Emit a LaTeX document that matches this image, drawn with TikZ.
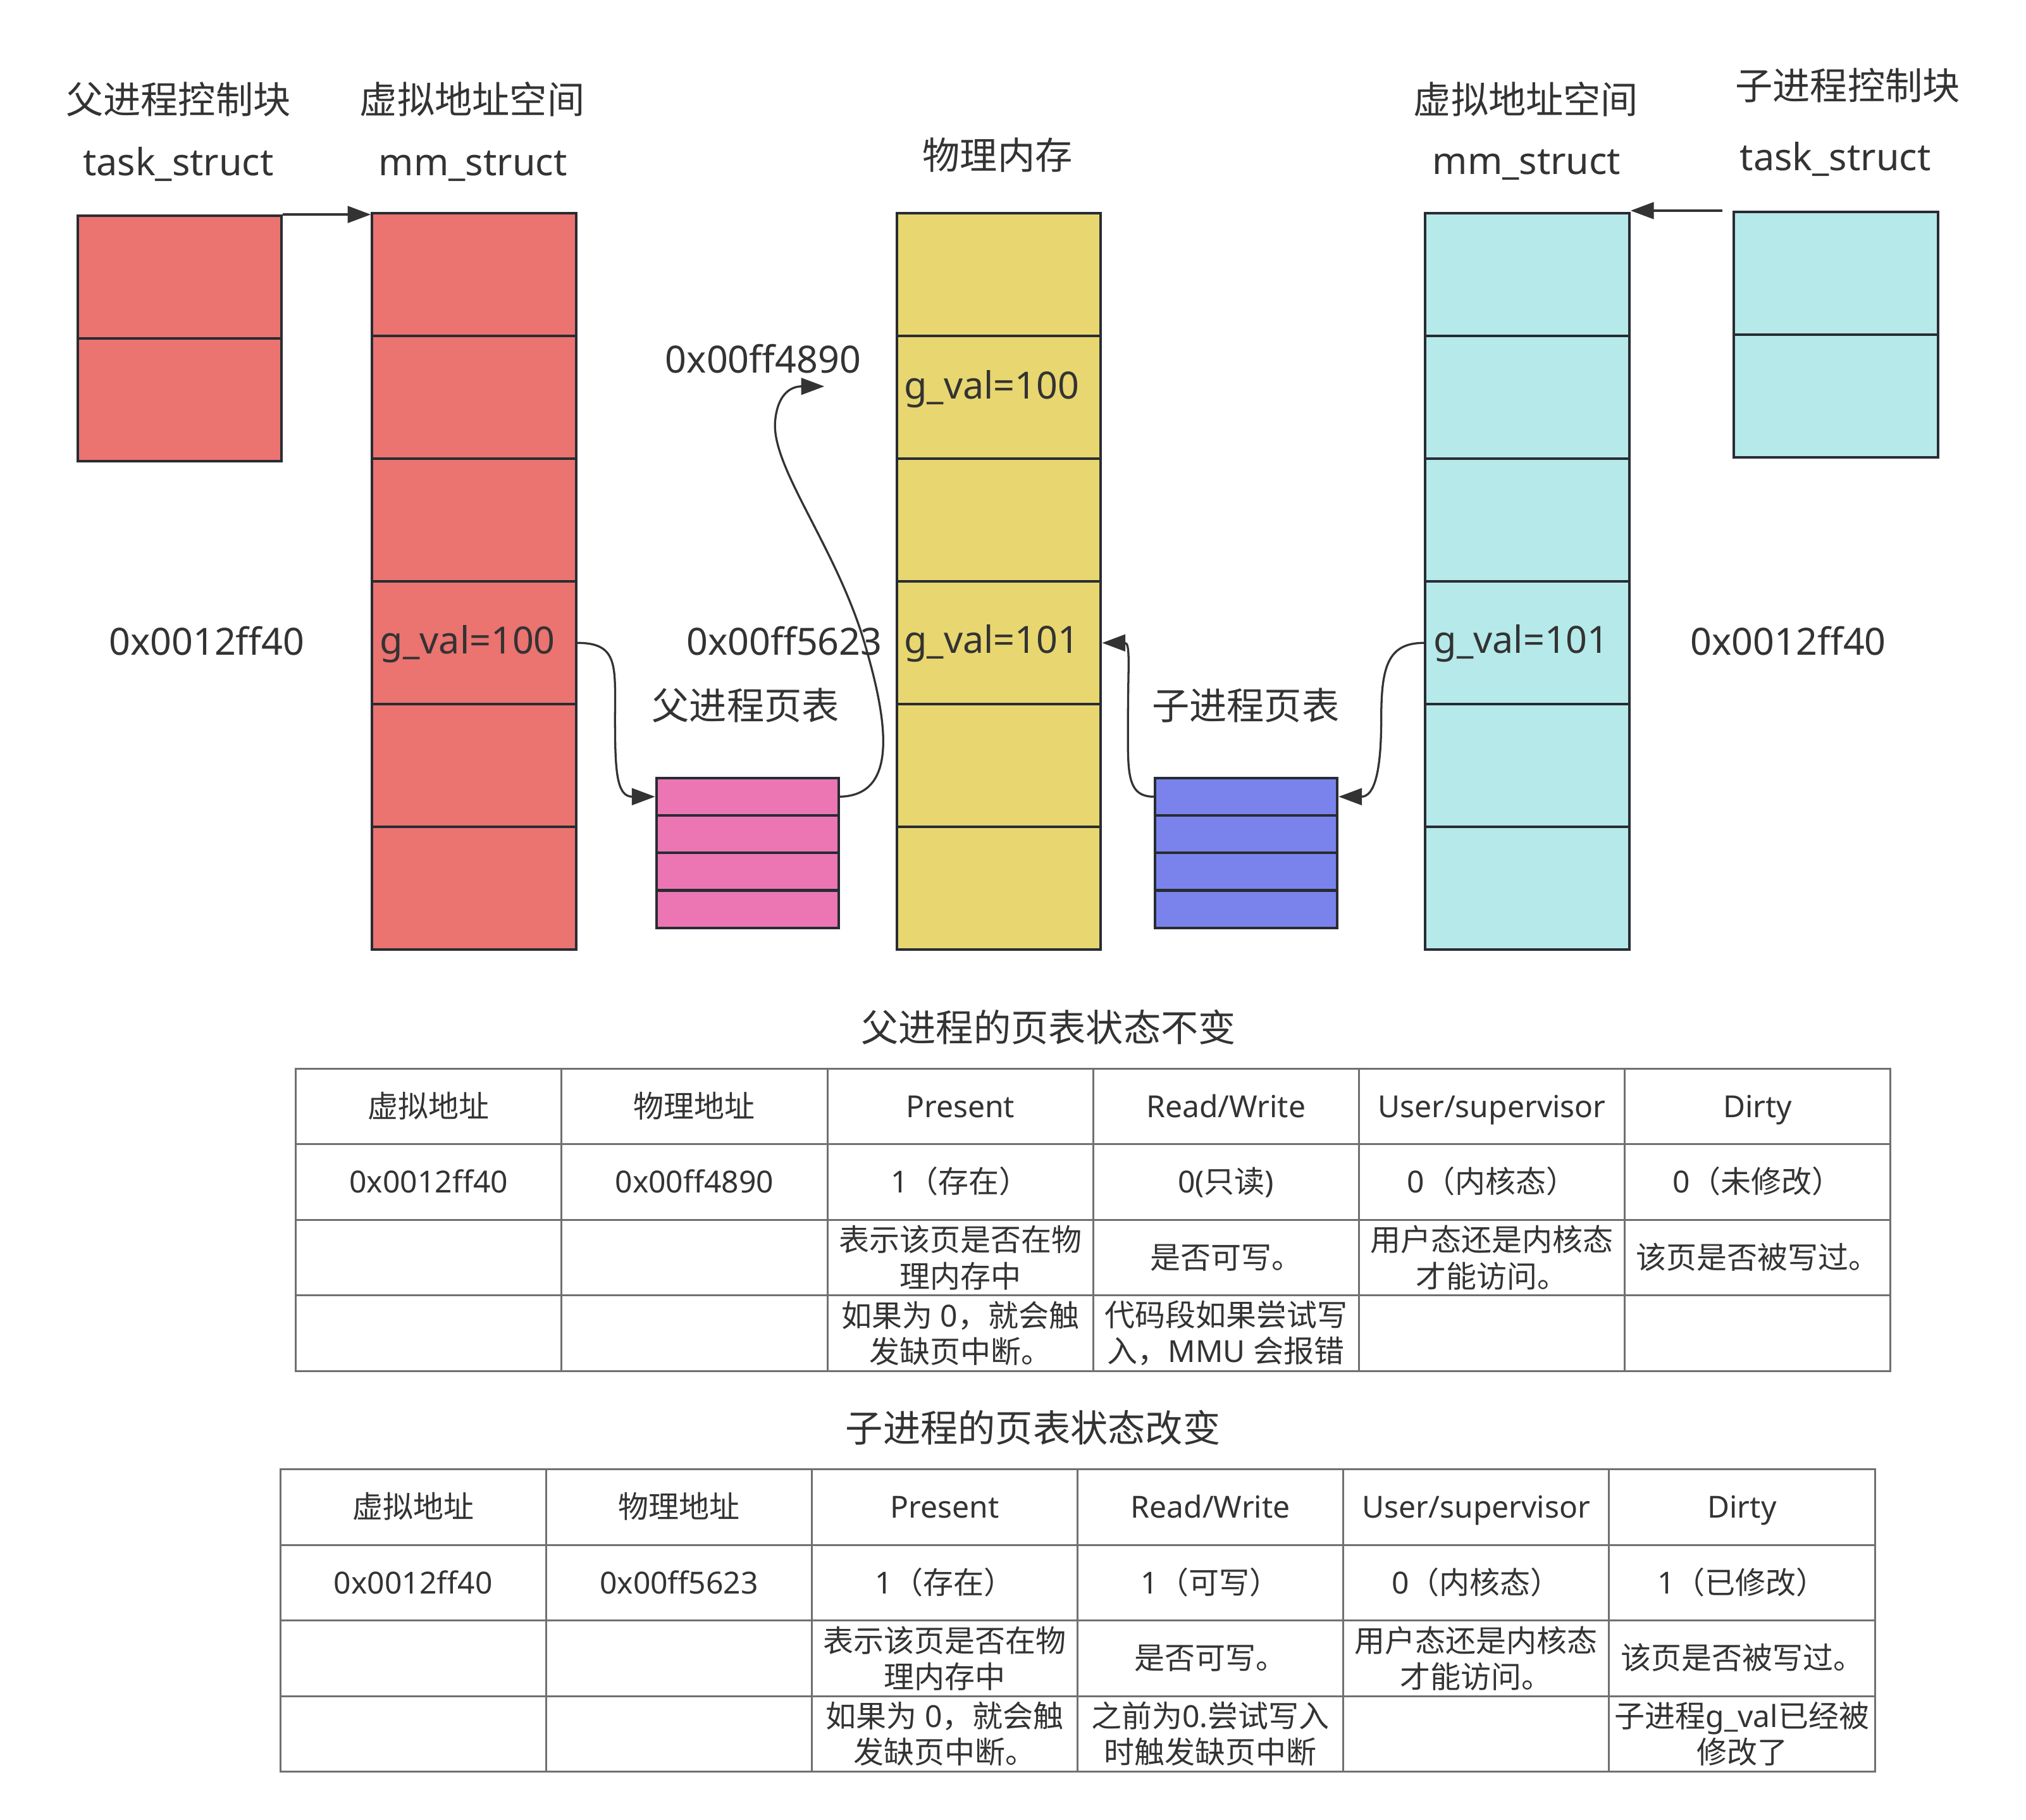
\documentclass[tikz,border=0pt]{standalone}
\usepackage{fontspec}
\setmainfont{Noto Sans}
\newfontfamily\cjkfont{Noto Sans CJK SC}
\usetikzlibrary{arrows.meta}
\newcommand\zh[1]{{\cjkfont #1}}
\definecolor{edge}{HTML}{282C33}
\definecolor{txt}{HTML}{333333}
\definecolor{gridc}{HTML}{707070}
\definecolor{redc}{HTML}{EB7370}
\definecolor{yelc}{HTML}{E8D670}
\definecolor{cyac}{HTML}{B6E9E9}
\definecolor{pinkc}{HTML}{EC76B4}
\definecolor{bluec}{HTML}{7A83EB}
\begin{document}
\begin{tikzpicture}[x=1pt,y=-1pt,
 cell/.style={draw=edge, line width=2pt, inner sep=0pt, anchor=north west, minimum width=158pt, minimum height=95pt},
 ptcell/.style={draw=edge, line width=2pt, inner sep=0pt, anchor=north west, minimum width=141pt, minimum height=29pt},
 lab/.style={text=txt, font=\fontsize{29}{34}\selectfont, inner sep=0pt, anchor=base},
 labw/.style={lab, anchor=base west},
 tcell/.style={text=txt, font=\fontsize{23.5}{28}\selectfont, inner sep=0pt, align=center, anchor=center},
 tcellone/.style={tcell, text height=17pt, text depth=0pt},
 conn/.style={draw=txt, line width=1.6pt, -{Triangle[length=18pt,width=13pt]}},
 gridline/.style={draw=gridc, line width=1.5pt},
]
\useasboundingbox (0,0) rectangle (1568,1408.4);
\fill[white] (0,0) rectangle (1568,1408.4);

% ---------- boxes ----------
\node[cell, fill=redc] (pt1) at (59,166) {};
\node[cell, fill=redc] (pt2) at (59,261) {};
\foreach \i in {1,...,6} {
  \node[cell, fill=redc] (r\i) at (287,{164+95*(\i-1)}) {};
  \node[cell, fill=yelc] (y\i) at (693,{164+95*(\i-1)}) {};
  \node[cell, fill=cyac] (c\i) at (1102,{164+95*(\i-1)}) {};
}
\node[cell, fill=cyac] (ct1) at (1341,163) {};
\node[cell, fill=cyac] (ct2) at (1341,258) {};
\foreach \i in {1,...,4} {
  \node[ptcell, fill=pinkc] (pk\i) at (507,{601+29*(\i-1)}) {};
  \node[ptcell, fill=bluec] (bl\i) at (893,{601+29*(\i-1)}) {};
}

% ---------- labels ----------
\node[lab] (tl1) at (138,88) {\zh{父进程控制块}};
\node[lab] (tl2) at (138,136) {task\_struct};
\node[lab] (tl3) at (365.5,88) {\zh{虚拟地址空间}};
\node[lab] (tl4) at (366,136) {mm\_struct};
\node[lab] (tl5) at (772,131) {\zh{物理内存}};
\node[lab] (tl6) at (1181,88) {\zh{虚拟地址空间}};
\node[lab] (tl7) at (1181.5,135) {mm\_struct};
\node[lab] (tl8) at (1430,77) {\zh{子进程控制块}};
\node[lab] (tl9) at (1420.5,132) {task\_struct};

\node[lab] (va1) at (160,507) {0x0012ff40};
\node[labw] (gv1) at (294,506) {g\_val=100};
\node[lab] (pa1) at (590.6,288.4) {0x00ff4890};
\node[labw] (gv2) at (699.5,308.7) {g\_val=100};
\node[lab] (pa2) at (607,507) {0x00ff5623};
\node[labw] (gv3) at (699.5,505.5) {g\_val=101};
\node[lab] (ptl) at (577,557) {\zh{父进程页表}};
\node[lab] (ctl) at (964,557) {\zh{子进程页表}};
\node[labw] (gv4) at (1109.5,505.5) {g\_val=101};
\node[lab] (va2) at (1384,507) {0x0012ff40};

% ---------- connectors ----------
\coordinate (a4890) at (638,299);
\draw[conn] (pt1.north east) -- (pt1.north east -| r1.west);
\draw[conn] ([xshift=-8pt]ct1.north west) -- (ct1.north west -| c1.east);
\draw[conn] (r4.east) .. controls +(32,0) and +(0,-40) .. (476,556) .. controls +(0,40) and +(-30,0) .. (pk1.west);
\draw[conn] (pk1.east) .. controls (695,615.5) and (688,560) .. (668,494) .. controls (645,420) and (596,360) .. (600,325) .. controls (602,305) and (612,299) .. (a4890);
\draw[conn] (bl1.west) .. controls +(-22,0) and +(0,40) .. (873,556) .. controls +(0,-40) and +(22,0) .. (y4.east);
\draw[conn] (c4.west) .. controls +(-28,0) and +(0,-40) .. (1069,556) .. controls +(0,40) and +(28,0) .. (bl1.east);

% ---------- table 1 ----------
\node[lab] (tt1) at (811.5,806) {\zh{父进程的页表状态不变}};
\draw[gridline] (229,827) rectangle (1463,1061);
\foreach \k in {1,...,5} \draw[gridline] ({229+205.667*\k},827) -- ++(0,234);
\foreach \k in {1,2,3} \draw[gridline] (229,{827+58.5*\k}) -- ++(1234,0);

\node[tcellone] (a11) at (331.8,856.25) {\zh{虚拟地址}};
\node[tcellone] (a12) at (537.5,856.25) {\zh{物理地址}};
\node[tcellone] (a13) at (743.2,856.25) {Present};
\node[tcellone] (a14) at (948.8,856.25) {Read/Write};
\node[tcellone] (a15) at (1154.5,856.25) {User/supervisor};
\node[tcellone] (a16) at (1360.2,856.25) {Dirty};
\node[tcellone] (a21) at (331.8,914.75) {0x0012ff40};
\node[tcellone] (a22) at (537.5,914.75) {0x00ff4890};
\node[tcellone] (a23) at (743.2,914.75) {1\zh{（存在）}};
\node[tcellone] (a24) at (948.8,914.75) {0(\zh{只读})};
\node[tcellone] (a25) at (1154.5,914.75) {0\zh{（内核态）}};
\node[tcellone] (a26) at (1360.2,914.75) {0\zh{（未修改）}};
\node[tcell] (a33) at (743.2,973.25) {\zh{表示该页是否在物}\\\zh{理内存中}};
\node[tcellone] (a34) at (948.8,973.25) {\zh{是否可写。}};
\node[tcell] (a35) at (1154.5,973.25) {\zh{用户态还是内核态}\\\zh{才能访问。}};
\node[tcellone] (a36) at (1360.2,973.25) {\zh{该页是否被写过。}};
\node[tcell] (a43) at (743.2,1031.75) {\zh{如果为} 0\zh{，就会触}\\\zh{发缺页中断。}};
\node[tcell] (a44) at (948.8,1031.75) {\zh{代码段如果尝试写}\\\zh{入，}MMU \zh{会报错}};

% ---------- table 2 ----------
\node[lab] (tt2) at (799.5,1116) {\zh{子进程的页表状态改变}};
\draw[gridline] (217,1137) rectangle (1451,1371);
\foreach \k in {1,...,5} \draw[gridline] ({217+205.667*\k},1137) -- ++(0,234);
\foreach \k in {1,2,3} \draw[gridline] (217,{1137+58.5*\k}) -- ++(1234,0);

\node[tcellone] (b11) at (319.8,1166.25) {\zh{虚拟地址}};
\node[tcellone] (b12) at (525.5,1166.25) {\zh{物理地址}};
\node[tcellone] (b13) at (731.2,1166.25) {Present};
\node[tcellone] (b14) at (936.8,1166.25) {Read/Write};
\node[tcellone] (b15) at (1142.5,1166.25) {User/supervisor};
\node[tcellone] (b16) at (1348.2,1166.25) {Dirty};
\node[tcellone] (b21) at (319.8,1224.75) {0x0012ff40};
\node[tcellone] (b22) at (525.5,1224.75) {0x00ff5623};
\node[tcellone] (b23) at (731.2,1224.75) {1\zh{（存在）}};
\node[tcellone] (b24) at (936.8,1224.75) {1\zh{（可写）}};
\node[tcellone] (b25) at (1142.5,1224.75) {0\zh{（内核态）}};
\node[tcellone] (b26) at (1348.2,1224.75) {1\zh{（已修改）}};
\node[tcell] (b33) at (731.2,1283.25) {\zh{表示该页是否在物}\\\zh{理内存中}};
\node[tcellone] (b34) at (936.8,1283.25) {\zh{是否可写。}};
\node[tcell] (b35) at (1142.5,1283.25) {\zh{用户态还是内核态}\\\zh{才能访问。}};
\node[tcellone] (b36) at (1348.2,1283.25) {\zh{该页是否被写过。}};
\node[tcell] (b43) at (731.2,1341.75) {\zh{如果为} 0\zh{，就会触}\\\zh{发缺页中断。}};
\node[tcell] (b44) at (936.8,1341.75) {\zh{之前为}0.\zh{尝试写入}\\\zh{时触发缺页中断}};
\node[tcell] (b46) at (1348.2,1341.75) {\zh{子进程}g\_val\zh{已经被}\\\zh{修改了}};
\end{tikzpicture}
\end{document}
